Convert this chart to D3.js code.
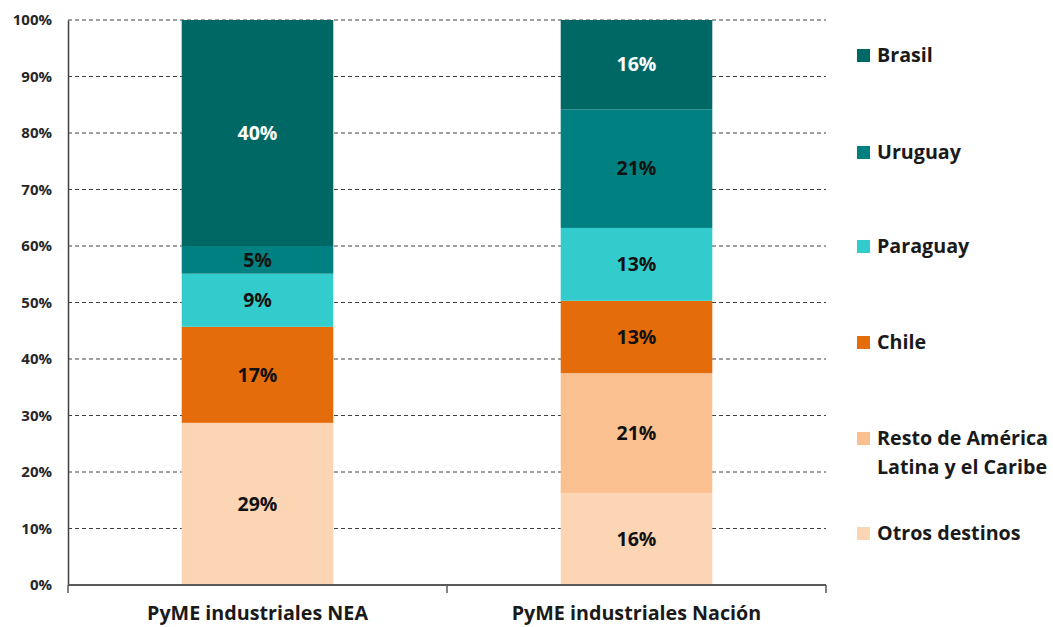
<!DOCTYPE html>
<html><head><meta charset="utf-8">
<script src="https://cdn.jsdelivr.net/npm/d3@7"></script>
<style>body{margin:0;background:#fff}svg{display:block}text{font-family:"Open Sans",Lato,sans-serif;font-weight:bold}</style>
</head><body><svg id="c" width="1053" height="627"></svg>
<script>
const categories = ["PyME industriales NEA", "PyME industriales Nación"];
const seriesNames = ["Otros destinos", "Resto de América Latina y el Caribe", "Chile", "Paraguay", "Uruguay", "Brasil"];
const otros    = [28.7, 16.3];
const resto    = [0,    21.2];
const chile    = [17.0, 12.8];
const paraguay = [9.4,  12.9];
const uruguay  = [4.9,  21.0];
const brasil   = [40.0, 15.8];
const yTicks = [0,10,20,30,40,50,60,70,80,90,100];
const colors = ["#FCD5B5", "#FAC090", "#E46C0A", "#33CCCC", "#008080", "#006864"];
const labelColors = ["#111", "#111", "#111", "#111", "#111", "#fff"];
const legendLines = [["Brasil"],["Uruguay"],["Paraguay"],["Chile"],["Resto de América","Latina y el Caribe"],["Otros destinos"]];

const svg = d3.select("#c");
const m = {l:68, r:826, t:20, b:585};
const x = d3.scaleBand().domain(categories).range([m.l, m.r]).paddingInner(0.6).paddingOuter(0.3);
const y = d3.scaleLinear().domain([0,100]).range([m.b, m.t]);

const rows = categories.map((c,i)=>({cat:c, s0:otros[i], s1:resto[i], s2:chile[i], s3:paraguay[i], s4:uruguay[i], s5:brasil[i]}));
const stack = d3.stack().keys(["s0","s1","s2","s3","s4","s5"])(rows);

// gridlines
svg.append("g").selectAll("line").data(yTicks.filter(d=>d>0)).join("line")
  .attr("x1", m.l).attr("x2", m.r).attr("y1", d=>y(d)).attr("y2", d=>y(d))
  .attr("stroke", "#404040").attr("stroke-width", 1).attr("stroke-dasharray", "4,3");

// bars
const g = svg.append("g");
stack.forEach((layer, k) => {
  g.append("g").selectAll("rect").data(layer).join("rect")
    .attr("x", d=>x(d.data.cat)).attr("width", x.bandwidth())
    .attr("y", d=>y(d[1])).attr("height", d=>y(d[0])-y(d[1]))
    .attr("fill", colors[k]);
  g.append("g").selectAll("text").data(layer.filter(d=>d[1]-d[0]>0.5)).join("text")
    .attr("x", d=>x(d.data.cat)+x.bandwidth()/2)
    .attr("y", d=>(y(d[0])+y(d[1]))/2)
    .attr("dy", "0.35em").attr("text-anchor","middle")
    .attr("font-size", 19.5).attr("fill", labelColors[k])
    .text(d=>Math.round(d[1]-d[0])+"%");
});

// y axis
const ya = svg.append("g").attr("transform", `translate(${m.l},0)`)
  .call(d3.axisLeft(y).tickValues(yTicks).tickFormat(d=>d+"%").tickSize(0).tickPadding(16));
ya.select(".domain").attr("stroke","#404040").attr("stroke-width",1.5);
ya.selectAll("text").attr("font-size",15).attr("fill","#262626").style("font-family","'Open Sans',sans-serif").style("font-weight","bold");

// x axis
const xa = svg.append("g").attr("transform", `translate(0,${m.b})`);
xa.append("line").attr("x1", m.l).attr("x2", m.r).attr("stroke","#595959").attr("stroke-width",2);
const bounds = [m.l, (m.l+m.r)/2, m.r];
xa.selectAll("line.t").data(bounds).join("line").attr("class","t")
  .attr("x1", d=>d).attr("x2", d=>d).attr("y1",0).attr("y2",8).attr("stroke","#595959").attr("stroke-width",1.5);
xa.selectAll("text").data(categories).join("text")
  .attr("x", d=>x(d)+x.bandwidth()/2).attr("y", 35).attr("text-anchor","middle")
  .attr("font-size",19.7).attr("fill","#1a1a1a").text(d=>d);

// legend
const legY = [55, 152, 246, 342, 438, 533];
const lg = svg.append("g");
legendLines.forEach((lines, i) => {
  const ci = 5 - i;
  lg.append("rect").attr("x",857).attr("y",legY[i]-6).attr("width",13).attr("height",13).attr("fill",colors[ci]);
  lines.forEach((t, j) => {
    lg.append("text").attr("x",877).attr("y",legY[i]+j*29).attr("dy","0.35em")
      .attr("font-size",19.7).attr("fill","#1a1a1a").text(t);
  });
});
</script></body></html>
